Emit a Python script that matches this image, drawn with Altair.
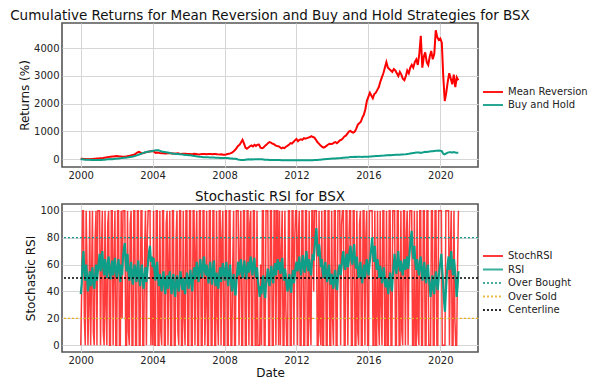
import altair as alt
import pandas as pd

# ---------------- Cumulative returns (monthly, Jan 2000 .. Jan 2021) ----------------
mean_reversion = (
    [20, 15, 10, 5, 0, 5, 0, 5, 10, 15, 20, 25]                      # 2000
    + [30, 35, 40, 45, 55, 65, 75, 85, 90, 95, 100, 110]             # 2001
    + [115, 110, 100, 95, 90, 90, 95, 105, 120, 130, 140, 150]       # 2002
    + [170, 210, 250, 270, 240, 210, 220, 240, 260, 270, 280, 290]   # 2003
    + [300, 270, 230, 240, 230, 220, 215, 220, 210, 210, 215, 220]   # 2004
    + [215, 210, 205, 200, 210, 215, 200, 190, 195, 200, 195, 190]   # 2005
    + [185, 190, 180, 185, 195, 190, 180, 175, 180, 185, 190, 185]   # 2006
    + [180, 185, 190, 185, 180, 185, 190, 180, 175, 170, 175, 165]   # 2007
    + [160, 170, 190, 200, 210, 240, 280, 330, 400, 480, 520, 600]   # 2008
    + [700, 560, 420, 380, 420, 470, 500, 460, 520, 480, 520, 530]   # 2009
    + [420, 400, 420, 480, 520, 580, 620, 600, 560, 540, 500, 480]   # 2010
    + [470, 430, 390, 420, 400, 450, 480, 520, 580, 560, 620, 680]   # 2011
    + [730, 650, 700, 720, 700, 760, 740, 760, 780, 800, 830, 800]   # 2012
    + [780, 700, 620, 560, 500, 450, 420, 440, 480, 520, 560, 550]   # 2013
    + [560, 600, 620, 580, 620, 680, 700, 750, 820, 850, 920, 1000]  # 2014
    + [1020, 980, 960, 1000, 1100, 1250, 1300, 1350, 1500, 1600, 1800, 2100]  # 2015
    + [2250, 2400, 2300, 2200, 2350, 2400, 2500, 2600, 2800, 2950, 3100, 3300]  # 2016
    + [3500, 3300, 3250, 3200, 3150, 3250, 3200, 3100, 3000, 3150, 3050, 2900]  # 2017
    + [2850, 3000, 3200, 3100, 3300, 3400, 3300, 3500, 3600, 3400, 3800, 4450]  # 2018
    + [3300, 3700, 3850, 3500, 3400, 3700, 3900, 3600, 3800, 4650, 4400, 4300]  # 2019
    + [4350, 4200, 3000, 2100, 2400, 2800, 3100, 2900, 2700, 3050, 2600, 2950]  # 2020
    + [2850]                                                                   # 2021
)

buy_and_hold = (
    [0, -5, -10, -15, -20, -15, -20, -25, -20, -25, -30, -25]        # 2000
    + [-25, -20, -25, -20, -15, -10, -5, 0, 5, 0, 10, 15]            # 2001
    + [20, 25, 30, 40, 45, 50, 55, 60, 70, 80, 90, 100]              # 2002
    + [115, 130, 150, 170, 190, 210, 230, 250, 260, 270, 280, 290]   # 2003
    + [300, 310, 320, 325, 320, 300, 280, 270, 260, 250, 240, 230]   # 2004
    + [220, 210, 200, 200, 190, 185, 180, 175, 170, 165, 155, 150]   # 2005
    + [145, 140, 135, 125, 115, 105, 95, 90, 85, 80, 75, 72]         # 2006
    + [70, 68, 65, 62, 60, 58, 55, 52, 50, 48, 46, 45]               # 2007
    + [45, 42, 40, 35, 30, 25, 20, 15, 5, -10, -20, -25]             # 2008
    + [-25, -30, -20, -10, -5, -10, -5, -10, -5, 0, 0, -5]           # 2009
    + [0, -5, -10, -15, -20, -20, -25, -25, -25, -30, -30, -30]      # 2010
    + [-30, -30, -35, -35, -35, -35, -35, -38, -35, -35, -38, -35]   # 2011
    + [-35, -35, -38, -38, -35, -35, -38, -36, -35, -35, -34, -33]   # 2012
    + [-32, -30, -25, -20, -15, -10, -5, 0, 5, 10, 15, 20]           # 2013
    + [25, 28, 30, 32, 35, 40, 45, 50, 55, 60, 65, 70]               # 2014
    + [80, 78, 82, 85, 80, 88, 90, 85, 82, 88, 90, 90]               # 2015
    + [90, 95, 100, 105, 110, 115, 120, 118, 122, 125, 130, 135]     # 2016
    + [140, 145, 150, 148, 152, 155, 158, 160, 162, 165, 170, 172]   # 2017
    + [175, 180, 190, 195, 205, 215, 225, 230, 240, 245, 245, 230]   # 2018
    + [240, 255, 265, 260, 270, 280, 290, 285, 295, 305, 310, 315]   # 2019
    + [310, 290, 200, 175, 210, 240, 255, 250, 240, 260, 245, 235]   # 2020
    + [230]                                                          # 2021
)

# ---------------- Stochastic RSI / RSI (20 samples per year) ----------------
rsi = (
    [38, 45, 62, 70, 55, 48, 60, 52, 40, 47, 55, 44, 50, 58, 46, 42, 52, 60, 48, 55]     # 2000
    + [62, 68, 55, 60, 70, 58, 52, 64, 57, 50, 61, 66, 54, 49, 58, 63, 52, 57, 65, 56]   # 2001
    + [50, 58, 64, 55, 47, 60, 52, 66, 72, 76, 62, 55, 68, 57, 48, 55, 62, 50, 45, 56]   # 2002
    + [60, 52, 47, 58, 63, 50, 44, 55, 60, 48, 42, 52, 58, 47, 55, 63, 70, 74, 62, 66]   # 2003
    + [58, 65, 55, 48, 57, 62, 50, 44, 53, 46, 40, 50, 55, 45, 38, 47, 52, 42, 48, 55]   # 2004
    + [45, 38, 48, 53, 42, 36, 46, 52, 44, 40, 49, 55, 47, 41, 50, 45, 38, 47, 54, 48]   # 2005
    + [42, 50, 56, 46, 40, 52, 58, 49, 54, 62, 53, 47, 58, 64, 55, 50, 60, 66, 56, 52]   # 2006
    + [60, 54, 46, 55, 62, 52, 45, 57, 63, 50, 44, 54, 48, 42, 52, 58, 47, 53, 61, 55]   # 2007
    + [48, 56, 62, 50, 44, 55, 60, 49, 40, 47, 53, 42, 37, 46, 55, 62, 52, 58, 64, 54]   # 2008
    + [50, 58, 63, 55, 49, 57, 62, 54, 60, 66, 57, 52, 61, 65, 56, 50, 58, 48, 42, 36]   # 2009
    + [44, 38, 48, 52, 41, 35, 45, 50, 57, 48, 44, 54, 59, 50, 46, 56, 61, 52, 58, 64]   # 2010
    + [56, 62, 53, 58, 65, 55, 48, 57, 52, 44, 40, 48, 53, 43, 39, 50, 56, 46, 52, 59]   # 2011
    + [62, 55, 60, 66, 57, 52, 61, 67, 58, 54, 63, 70, 60, 55, 64, 58, 52, 61, 68, 63]   # 2012
    + [72, 80, 87, 74, 66, 75, 68, 58, 64, 55, 50, 58, 62, 52, 47, 55, 60, 50, 45, 53]   # 2013
    + [48, 42, 52, 56, 46, 41, 51, 57, 60, 52, 58, 66, 70, 60, 56, 64, 68, 58, 62, 70]   # 2014
    + [74, 64, 60, 68, 75, 63, 57, 66, 58, 50, 56, 62, 52, 46, 55, 60, 50, 56, 64, 58]   # 2015
    + [52, 60, 66, 72, 80, 68, 62, 74, 63, 56, 64, 58, 50, 59, 54, 46, 52, 58, 48, 43]   # 2016
    + [50, 44, 38, 47, 54, 45, 40, 52, 60, 68, 58, 53, 62, 70, 60, 55, 63, 57, 52, 60]   # 2017
    + [64, 56, 61, 66, 57, 62, 72, 80, 85, 70, 64, 74, 62, 56, 64, 58, 52, 60, 66, 56]   # 2018
    + [48, 56, 62, 52, 46, 55, 60, 50, 44, 36, 45, 52, 42, 38, 48, 55, 46, 41, 50, 57]   # 2019
    + [62, 68, 56, 45, 33, 25, 40, 52, 60, 66, 56, 62, 70, 58, 52, 64, 57, 48, 36, 44]   # 2020
    + [55]                                                                               # 2021
)

stoch_rsi = (
    [0, 40, 100, 100, 20, 0, 100, 60, 0, 30, 100, 0, 50, 100, 10, 0, 80, 100, 0, 100]        # 2000
    + [100, 100, 0, 70, 100, 10, 0, 100, 30, 0, 90, 100, 0, 0, 100, 100, 0, 60, 100, 0]      # 2001
    + [0, 100, 100, 0, 0, 100, 20, 100, 100, 100, 0, 0, 100, 10, 0, 90, 100, 0, 0, 100]      # 2002
    + [100, 0, 0, 100, 100, 0, 0, 100, 100, 0, 0, 70, 100, 0, 80, 100, 100, 100, 0, 60]      # 2003
    + [0, 100, 0, 0, 100, 100, 0, 0, 100, 10, 0, 100, 100, 0, 0, 90, 100, 0, 60, 100]        # 2004
    + [0, 0, 100, 100, 0, 0, 80, 100, 10, 0, 100, 100, 0, 0, 100, 20, 0, 100, 100, 0]        # 2005
    + [0, 100, 100, 0, 0, 100, 100, 0, 70, 100, 0, 0, 100, 100, 0, 0, 100, 100, 0, 30]       # 2006
    + [100, 0, 0, 100, 100, 0, 0, 100, 100, 0, 0, 100, 20, 0, 100, 100, 0, 80, 100, 0]       # 2007
    + [0, 100, 100, 0, 0, 100, 100, 0, 0, 60, 100, 0, 0, 100, 100, 100, 0, 70, 100, 0]       # 2008
    + [0, 100, 100, 0, 0, 100, 100, 0, 90, 100, 0, 0, 100, 100, 0, 0, 100, 0, 0, 0]          # 2009
    + [60, 0, 100, 100, 0, 0, 100, 100, 100, 0, 0, 100, 100, 0, 0, 100, 100, 0, 100, 100]    # 2010
    + [0, 100, 0, 70, 100, 0, 0, 100, 30, 0, 0, 100, 100, 0, 0, 100, 100, 0, 80, 100]        # 2011
    + [100, 0, 80, 100, 0, 0, 100, 100, 0, 0, 100, 100, 0, 0, 100, 20, 0, 100, 100, 40]      # 2012
    + [100, 100, 100, 0, 0, 100, 10, 0, 100, 0, 0, 100, 100, 0, 0, 100, 100, 0, 0, 100]      # 2013
    + [20, 0, 100, 100, 0, 0, 100, 100, 100, 0, 90, 100, 100, 0, 0, 100, 100, 0, 70, 100]    # 2014
    + [100, 0, 0, 100, 100, 0, 0, 100, 10, 0, 90, 100, 0, 0, 100, 100, 0, 80, 100, 0]        # 2015
    + [0, 100, 100, 100, 100, 0, 0, 100, 0, 0, 100, 20, 0, 100, 30, 0, 100, 100, 0, 0]       # 2016
    + [100, 0, 0, 100, 100, 0, 0, 100, 100, 100, 0, 0, 100, 100, 0, 0, 100, 10, 0, 100]      # 2017
    + [100, 0, 80, 100, 0, 70, 100, 100, 100, 0, 0, 100, 0, 0, 100, 10, 0, 100, 100, 0]      # 2018
    + [0, 100, 100, 0, 0, 100, 100, 0, 0, 0, 100, 100, 0, 0, 100, 100, 0, 0, 100, 100]       # 2019
    + [100, 100, 0, 0, 0, 0, 100, 100, 100, 100, 0, 70, 100, 0, 0, 100, 20, 0, 0, 60]        # 2020
    + [100]                                                                                  # 2021
)

level_names = ["Over Bought", "Over Sold", "Centerline"]
level_values = [80, 20, 50]

series_names = ["StochRSI", "RSI", "Over Bought", "Over Sold", "Centerline"]
series_colors = ["#ff1010", "#0f9e88", "#1a9a8a", "#e3ad1e", "#000000"]
series_dashes = [[1, 0], [1, 0], [2, 2], [2, 2], [2, 2]]

strategy_names = ["Mean Reversion", "Buy and Hold"]
strategy_colors = ["#ff0000", "#0f9e88"]

return_ticks = [0, 1000, 2000, 3000, 4000]
rsi_ticks = [0, 20, 40, 60, 80, 100]
year_ticks = [2000, 2004, 2008, 2012, 2016, 2020]

# ---------------- tables ----------------
month_dates = pd.date_range("2000-01-01", periods=len(mean_reversion), freq="MS")
ret_mr = pd.DataFrame({"Date": month_dates, "Returns": mean_reversion, "Strategy": "Mean Reversion"})
ret_bh = pd.DataFrame({"Date": month_dates, "Returns": buy_and_hold, "Strategy": "Buy and Hold"})

assert len(rsi) == len(stoch_rsi)
osc_dates = pd.date_range("2000-01-03", "2021-01-04", periods=len(rsi))
stoch_df = pd.DataFrame({"Date": osc_dates, "Value": stoch_rsi, "Series": "StochRSI"})
rsi_df = pd.DataFrame({"Date": osc_dates, "Value": rsi, "Series": "RSI"})
levels_df = pd.DataFrame({"Series": level_names, "Value": level_values})

x_domain = [alt.DateTime(year=1998, month=12, date=18), alt.DateTime(year=2022, month=2, date=5)]
x_tick_values = [alt.DateTime(year=y, month=1, date=1) for y in year_ticks]

W, H1, H2 = 416, 144, 148
LEGEND_SYMBOL = "M-1.43,0H1.43"

# ---------------- top chart ----------------
strat_color = alt.Color(
    "Strategy:N",
    scale=alt.Scale(domain=strategy_names, range=strategy_colors),
    legend=alt.Legend(title=None, orient="none", legendX=423, legendY=61, rowPadding=0),
)
x_top = alt.X("Date:T", scale=alt.Scale(domain=x_domain),
              axis=alt.Axis(values=x_tick_values, format="%Y", title=None))
y_top = alt.Y("Returns:Q", scale=alt.Scale(domain=[-280, 4910], nice=False),
              axis=alt.Axis(values=return_ticks, format="d", title="Returns (%)"))

top_mr = alt.Chart(ret_mr).mark_line(strokeWidth=2).encode(x=x_top, y=y_top, color=strat_color)
top_bh = alt.Chart(ret_bh).mark_line(strokeWidth=2).encode(x=x_top, y=y_top, color=strat_color)
top = alt.layer(top_mr, top_bh).properties(
    width=W, height=H1,
    title="Cumulative Returns for Mean Reversion and Buy and Hold Strategies for BSX",
)

# ---------------- bottom chart ----------------
bottom_legend = alt.Legend(title=None, orient="none", legendX=423, legendY=44, rowPadding=0.5)
ser_color = alt.Color(
    "Series:N",
    scale=alt.Scale(domain=series_names, range=series_colors),
    legend=bottom_legend,
)
ser_dash = alt.StrokeDash(
    "Series:N",
    scale=alt.Scale(domain=series_names, range=series_dashes),
    legend=bottom_legend,
)
x_bot = alt.X("Date:T", scale=alt.Scale(domain=x_domain),
              axis=alt.Axis(values=x_tick_values, format="%Y", title="Date"))
y_bot = alt.Y("Value:Q", scale=alt.Scale(domain=[-5, 105], nice=False),
              axis=alt.Axis(values=rsi_ticks, format="d", title="Stochastic RSI"))

stoch_line = alt.Chart(stoch_df).mark_line(strokeWidth=1.5, opacity=0.82).encode(
    x=x_bot, y=y_bot, color=ser_color, strokeDash=ser_dash)
rsi_line = alt.Chart(rsi_df).mark_line(strokeWidth=2.2).encode(
    x=x_bot, y=y_bot, color=ser_color, strokeDash=ser_dash)
level_rules = alt.Chart(levels_df).mark_rule(strokeWidth=1.4).encode(
    y=y_bot, color=ser_color, strokeDash=ser_dash)

bottom = alt.layer(stoch_line, rsi_line, level_rules).properties(
    width=W, height=H2, title="Stochastic RSI for BSX")

chart = (
    alt.vconcat(top, bottom, spacing=8)
    .resolve_scale(color="independent", strokeDash="independent")
    .resolve_legend(color="independent", strokeDash="independent")
    .properties(padding={"left": 1, "top": 0, "right": 0, "bottom": 0})
    .configure_view(stroke="#555555", strokeWidth=1.6)
    .configure_axis(
        labelFont="DejaVu Sans", labelFontSize=10, labelColor="#222222",
        titleFont="DejaVu Sans", titleFontSize=12, titleFontWeight="normal", titleColor="#111111",
        grid=True, gridColor="#d6d6d6", gridWidth=1, domain=False, ticks=False,
        labelPadding=3, titlePadding=2,
    )
    .configure_title(font="DejaVu Sans", fontSize=13.5, fontWeight="normal", color="#111111", offset=0.5)
    .configure_legend(
        labelFont="DejaVu Sans", labelFontSize=10, labelColor="#222222",
        symbolType=LEGEND_SYMBOL, symbolSize=196, symbolStrokeWidth=1.8,
        labelOffset=7, padding=0,
    )
)

chart.save("out.html", embed_options={"renderer": "svg", "actions": False})
